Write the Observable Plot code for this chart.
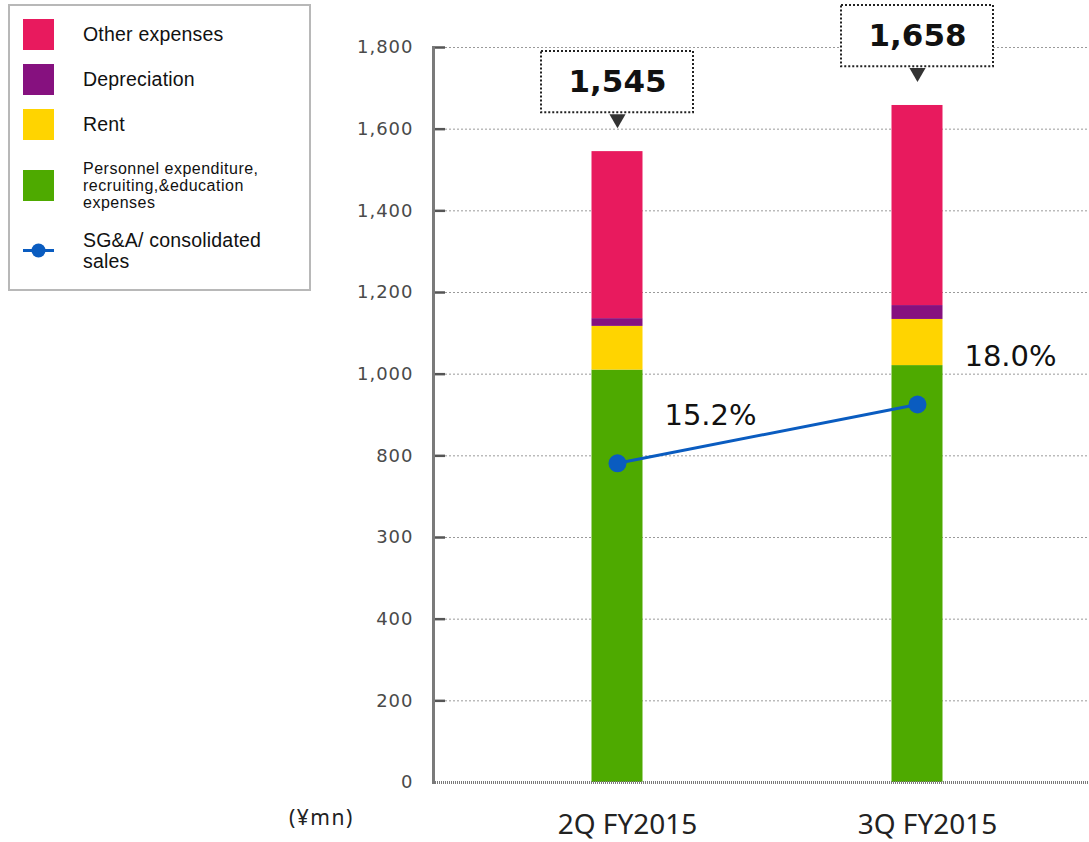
<!DOCTYPE html>
<html>
<head>
<meta charset="utf-8">
<script src="https://cdn.jsdelivr.net/npm/d3@7"></script>
<script src="https://cdn.jsdelivr.net/npm/@observablehq/plot@0.6"></script>
<style>
  body { margin: 0; background: #fff; }
  #wrap { position: relative; width: 1089px; height: 842px; overflow: hidden; }
  #chart { position: absolute; left: 0; top: 0; }
  #legend { position: absolute; left: 8px; top: 4px; width: 299px; height: 283px; border: 2px solid #b8b8b8; background: #fff; font-family: "Liberation Sans", Arial, sans-serif; color: #111; }
  .item { position: absolute; left: 13px; display: flex; align-items: center; }
  .sw { width: 31px; height: 31px; flex: none; }
  .lab { margin-left: 29px; font-size: 19.5px; line-height: 20.5px; letter-spacing: 0.2px; }
  .lab.small { font-size: 16px; line-height: 17px; letter-spacing: 0.5px; }
  #unit { position: absolute; left: 289px; top: 803px; font-family: "Noto Sans", sans-serif; font-size: 21px; letter-spacing: 1.5px; color: #222; }
  #chart svg [aria-label="y-axis tick label"] text { letter-spacing: 1px; }
</style>
</head>
<body>
<div id="wrap">
  <div id="chart"></div>
  <div id="legend"></div>
  <div id="unit">(¥mn)</div>
</div>
<script>
// ---- data ----
const quarters = ["2Q FY2015", "3Q FY2015"];
const seriesNames = ["Personnel expenditure, recruiting,&education expenses", "Rent", "Depreciation", "Other expenses"];
const seriesColors = ["#4eaa00", "#ffd400", "#86117f", "#e81a5e"];
const personnel = [1010, 1021];
const rent = [107, 113];
const depreciation = [19, 34];
const otherExpenses = [409, 490];
const totals = [1545, 1658];
const sgaRatio = [15.2, 18.0];
const yTickValues = [0, 200, 400, 600, 800, 1000, 1200, 1400, 1600, 1800];
const yTickLabels = ["0", "200", "400", "300", "800", "1,000", "1,200", "1,400", "1,600", "1,800"];
const lineColor = "#0a5cc0";

// ---- tables ----
const seriesValues = [personnel, rent, depreciation, otherExpenses];
const rows = [];
seriesNames.forEach((s, si) => quarters.forEach((q, qi) => rows.push({quarter: q, series: s, value: seriesValues[si][qi]})));
const totalRows = quarters.map((q, i) => ({quarter: q, total: totals[i]}));
// hidden secondary axis for the ratio line
const ratioToY = d3.scaleLinear([0, 35], [0, 1800]);
const ratioRows = quarters.map((q, i) => ({quarter: q, ratio: sgaRatio[i]}));

const W = 1089, H = 842, mL = 433, mR = 0, mT = 47, mB = 60;
const frameW = W - mL - mR;
const hatch = {stroke: "#7a7a7a", strokeWidth: 3, strokeDasharray: "1,1"};

const chart = Plot.plot({
  width: W, height: H,
  marginLeft: mL, marginRight: mR, marginTop: mT, marginBottom: mB,
  style: {fontFamily: "DejaVu Sans, sans-serif", background: "transparent", overflow: "visible"},
  x: {domain: quarters, paddingInner: 0, paddingOuter: 0.09, align: 0.6, label: null},
  y: {domain: [0, 1800], label: null},
  color: {domain: seriesNames, range: seriesColors},
  marks: [
    Plot.gridY(yTickValues.slice(1), {stroke: "#9a9a9a", strokeOpacity: 1, strokeWidth: 1, strokeDasharray: "2,2", insetLeft: 12}),
    Plot.tickY(yTickValues.slice(1), {y: d => d, stroke: "#555", strokeWidth: 2.5, insetRight: frameW - 12}),
    Plot.axisY(yTickValues, {tickSize: 0, tickPadding: 20, fontSize: 18, fill: "#4a4a4a", tickFormat: d => yTickLabels[yTickValues.indexOf(d)], label: null}),
    Plot.axisX({tickSize: 0, tickPadding: 32, fontSize: 28, fontFamily: "Noto Sans, sans-serif", fill: "#222", dx: 10, label: null}),
    Plot.barY(rows, Plot.stackY({x: "quarter", y: "value", fill: "series", order: seriesNames, insetLeft: 124.5, insetRight: 124.5})),
    Plot.frame({anchor: "left", ...hatch}),
    Plot.ruleY([0], hatch),
    Plot.line(ratioRows, {x: "quarter", y: d => ratioToY(d.ratio), stroke: lineColor, strokeWidth: 3}),
    Plot.dot(ratioRows, {x: "quarter", y: d => ratioToY(d.ratio), r: 9, fill: lineColor}),
    Plot.text(ratioRows, {x: "quarter", y: d => ratioToY(d.ratio), text: d => d.ratio.toFixed(1) + "%", dx: 93, dy: -48, fontSize: 29, fill: "#111"}),
    Plot.barY(totalRows, {x: "quarter", y1: d => d.total + 95, y2: d => d.total + 245, insetLeft: 74, insetRight: 74, fill: "white", stroke: "#222", strokeWidth: 2, strokeDasharray: "2,2"}),
    Plot.dot(totalRows, {x: "quarter", y: d => d.total + 95, symbol: "triangle", rotate: 180, r: 6, fill: "#333", dy: 6}),
    Plot.text(totalRows, {x: "quarter", y: d => d.total + 170, text: d => d3.format(",")(d.total), fontSize: 31, fontWeight: "bold", fill: "#111"})
  ]
});
document.getElementById("chart").appendChild(chart);

// ---- legend ----
const legend = document.getElementById("legend");
const legendEntries = [
  {name: "Other expenses", color: seriesColors[3], top: 13},
  {name: "Depreciation", color: seriesColors[2], top: 58},
  {name: "Rent", color: seriesColors[1], top: 103},
  {name: "Personnel expenditure,<br>recruiting,&amp;education<br>expenses", color: seriesColors[0], top: 154, small: true},
];
legendEntries.forEach(e => {
  const it = document.createElement("div");
  it.className = "item";
  it.style.top = e.top + "px";
  it.innerHTML = `<div class="sw" style="background:${e.color}"></div><div class="lab${e.small ? " small" : ""}">${e.name}</div>`;
  legend.appendChild(it);
});
const li = document.createElement("div");
li.className = "item";
li.style.top = "224px";
li.innerHTML = `<svg width="31" height="41" style="flex:none"><line x1="0" x2="31" y1="20.5" y2="20.5" stroke="${lineColor}" stroke-width="3"/><circle cx="15.5" cy="20.5" r="7" fill="${lineColor}"/></svg><div class="lab">SG&amp;A/ consolidated<br>sales</div>`;
legend.appendChild(li);
</script>
</body>
</html>
